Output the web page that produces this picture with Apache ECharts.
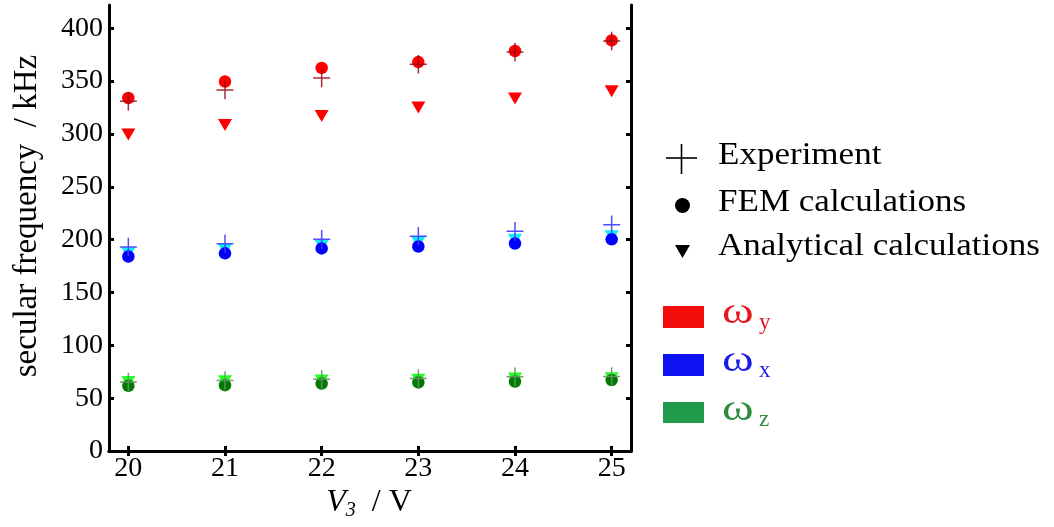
<!DOCTYPE html>
<html>
<head>
<meta charset="utf-8">
<script src="https://cdn.jsdelivr.net/npm/echarts@6/dist/echarts.min.js"></script>
<style>
html,body{margin:0;padding:0;background:#fff;}
#chart{width:1054px;height:527px;}
</style>
</head>
<body>
<div id="chart"></div>
<script>
// ---- data (kHz) ----
const voltages = [20, 21, 22, 23, 24, 25];
const yTicks = [0, 50, 100, 150, 200, 250, 300, 350, 400];

// omega_y (red)
const expY = [331, 341.5, 353, 366, 377.5, 388];
const femY = [334, 349.5, 362.5, 368, 378.5, 388.5];
const anaY = [299.5, 308.5, 317, 325, 333.5, 340.5];
// omega_x (blue)
const expX = [193, 196, 200.3, 203.2, 208, 214];
const femX = [184, 187, 191.7, 193.5, 196.3, 200.3];
const anaX = [187, 190.5, 194, 197, 200, 203.3];
// omega_z (green)
const expZ = [65.2, 66.8, 68, 68.7, 70.3, 70.6];
const femZ = [61.7, 62.3, 63.9, 64.9, 65.8, 67.1];
const anaZ = [65.2, 66, 66.8, 67.3, 68.7, 68.9];

const SERIF = '"Liberation Serif", "Times New Roman", serif';
const CROSS = 'path://M0,17 L34,17 L34,20 L0,20 Z M15.5,0 L18.5,0 L18.5,37 L15.5,37 Z';

function pts(arr) { return voltages.map((v, i) => [v, arr[i]]); }

function tri(name, arr, color) {
  return { name: name, type: 'scatter', data: pts(arr), symbol: 'triangle', symbolRotate: 180,
    symbolSize: [14, 12], itemStyle: { color: color, opacity: 1 }, z: 2, silent: true };
}
function circ(name, arr, color) {
  return { name: name, type: 'scatter', data: pts(arr), symbol: 'circle',
    symbolSize: 12.5, itemStyle: { color: color, opacity: 1 }, z: 3, silent: true };
}
function cross(name, arr, color) {
  return { name: name, type: 'scatter', data: pts(arr), symbol: CROSS,
    symbolSize: [17, 18.5], itemStyle: { color: color, opacity: 1 }, z: 4, silent: true };
}

const axisLineStyle = { show: true, lineStyle: { color: '#000', width: 3 } };
const tickStyle = { show: true, inside: true, length: 5, lineStyle: { color: '#000', width: 3 } };

const chart = echarts.init(document.getElementById('chart'), null, { renderer: 'canvas' });
chart.setOption({
  animation: false,
  backgroundColor: '#fff',
  grid: { left: 109, right: 423, top: 5, bottom: 76, containLabel: false },
  xAxis: [
    { type: 'value', position: 'bottom', min: 19.8, max: 25.2,
      axisLine: axisLineStyle,
      axisTick: Object.assign({}, tickStyle, { customValues: voltages }),
      axisLabel: { customValues: voltages, color: '#000', fontFamily: SERIF, fontSize: 28, margin: 4 },
      splitLine: { show: false } },
    { type: 'value', position: 'top', min: 19.8, max: 25.2,
      axisLine: axisLineStyle,
      axisTick: Object.assign({}, tickStyle, { customValues: voltages }),
      axisLabel: { show: false }, splitLine: { show: false } }
  ],
  yAxis: [
    { type: 'value', position: 'left', min: 0, max: 422,
      axisLine: axisLineStyle,
      axisTick: Object.assign({}, tickStyle, { customValues: yTicks }),
      axisLabel: { customValues: yTicks, color: '#000', fontFamily: SERIF, fontSize: 28, margin: 6 },
      splitLine: { show: false } },
    { type: 'value', position: 'right', min: 0, max: 422,
      axisLine: axisLineStyle,
      axisTick: Object.assign({}, tickStyle, { customValues: yTicks }),
      axisLabel: { show: false }, splitLine: { show: false } }
  ],
  series: [
    tri('Analytical calculations', anaY, '#ff0000'),
    tri('Analytical calculations', anaX, '#10eef5'),
    tri('Analytical calculations', anaZ, '#22ff22'),
    circ('FEM calculations', femY, '#ff0000'),
    circ('FEM calculations', femX, '#0000ff'),
    circ('FEM calculations', femZ, '#007a00'),
    cross('Experiment', expY, 'rgba(150,10,20,0.85)'),
    cross('Experiment', expX, 'rgba(60,60,255,0.9)'),
    cross('Experiment', expZ, 'rgba(100,150,100,0.9)')
  ],
  graphic: [
    // y axis title
    { type: 'text', x: 27, y: 216, rotation: Math.PI / 2,
      style: { text: 'secular frequency  / kHz', fill: '#000', font: '33px ' + SERIF,
        align: 'center', verticalAlign: 'middle' } },
    // x axis title
    { type: 'text', x: 369, y: 503,
      style: { text: '{i|V}{s|3}{n|  / V}', align: 'center', verticalAlign: 'middle',
        rich: {
          i: { fontFamily: SERIF, fontStyle: 'italic', fontSize: 32, lineHeight: 36, fill: '#000', verticalAlign: 'middle' },
          s: { fontFamily: SERIF, fontStyle: 'italic', fontSize: 20, lineHeight: 14, fill: '#000', verticalAlign: 'bottom' },
          n: { fontFamily: SERIF, fontSize: 32, lineHeight: 36, fill: '#000', verticalAlign: 'middle' }
        } } },
    // marker legend
    { type: 'line', shape: { x1: 666, y1: 158, x2: 697, y2: 158 }, style: { stroke: '#000', lineWidth: 1.6 } },
    { type: 'line', shape: { x1: 681.5, y1: 144, x2: 681.5, y2: 174 }, style: { stroke: '#000', lineWidth: 1.6 } },
    { type: 'circle', shape: { cx: 682.5, cy: 205.5, r: 7.5 }, style: { fill: '#000' } },
    { type: 'polygon', shape: { points: [[675, 245], [690, 245], [682.5, 258]] }, style: { fill: '#000' } },
    { type: 'text', x: 718, y: 156, scaleX: 1.13,
      style: { text: 'Experiment', fill: '#000', font: '31px ' + SERIF, verticalAlign: 'middle' } },
    { type: 'text', x: 718, y: 203, scaleX: 1.13,
      style: { text: 'FEM calculations', fill: '#000', font: '31px ' + SERIF, verticalAlign: 'middle' } },
    { type: 'text', x: 718, y: 247, scaleX: 1.13,
      style: { text: 'Analytical calculations', fill: '#000', font: '31px ' + SERIF, verticalAlign: 'middle' } },
    // colour legend
    { type: 'rect', shape: { x: 663, y: 306, width: 41, height: 22 }, style: { fill: '#f40c0c' } },
    { type: 'rect', shape: { x: 663, y: 354, width: 41, height: 22 }, style: { fill: '#0c12f0' } },
    { type: 'rect', shape: { x: 663, y: 402, width: 41, height: 21 }, style: { fill: '#219a4c' } },
    { type: 'text', x: 722, y: 313, scaleX: 1.3,
      style: { text: 'ω', fill: '#e8141e', font: '37px ' + SERIF, verticalAlign: 'middle' } },
    { type: 'text', x: 759, y: 323,
      style: { text: 'y', fill: '#e8141e', font: '23px ' + SERIF, verticalAlign: 'middle' } },
    { type: 'text', x: 722, y: 361.5, scaleX: 1.3,
      style: { text: 'ω', fill: '#1c1ce8', font: '37px ' + SERIF, verticalAlign: 'middle' } },
    { type: 'text', x: 759, y: 371,
      style: { text: 'x', fill: '#1c1ce8', font: '23px ' + SERIF, verticalAlign: 'middle' } },
    { type: 'text', x: 722, y: 410.5, scaleX: 1.3,
      style: { text: 'ω', fill: '#2e8b3e', font: '37px ' + SERIF, verticalAlign: 'middle' } },
    { type: 'text', x: 759, y: 419.5,
      style: { text: 'z', fill: '#2e8b3e', font: '23px ' + SERIF, verticalAlign: 'middle' } }
  ]
});
</script>
</body>
</html>
